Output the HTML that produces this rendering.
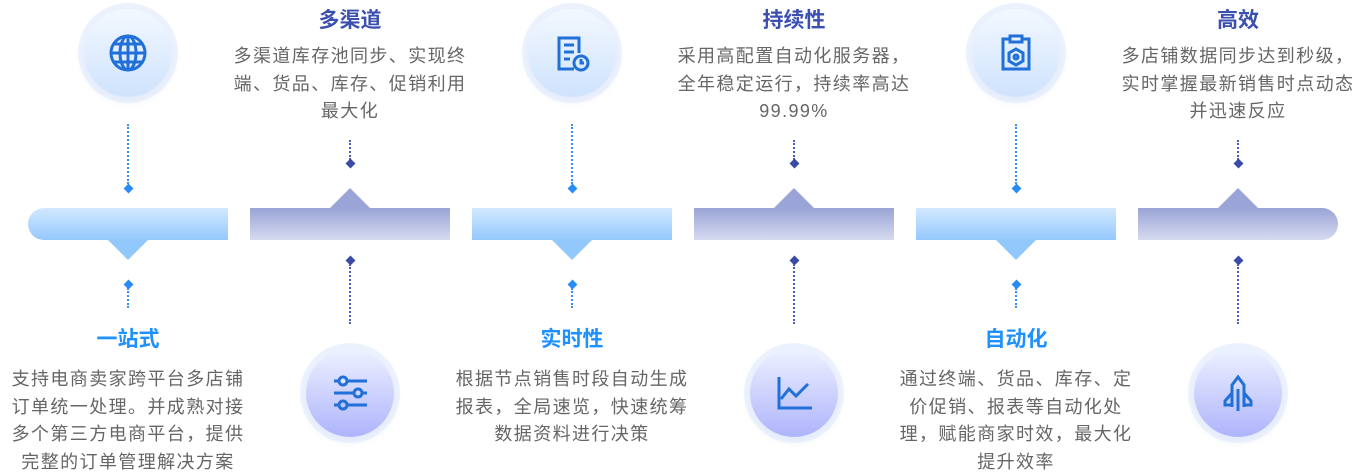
<!DOCTYPE html><html><head><meta charset="utf-8"><style>
body{margin:0;width:1366px;height:476px;background:#fff;position:relative;overflow:hidden;font-family:"Liberation Sans","Noto Sans CJK SC",sans-serif}
.bar{position:absolute;top:208px;width:200px;height:32px}
.bl{background:linear-gradient(#d3e9ff,#94c9fd)}
.pu{background:linear-gradient(#9aa4d6,#d6daf0)}
.tri{position:absolute;width:0;height:0}
.vl{position:absolute;width:0;border-left:2px dotted #3b8ff0}
.vp{border-left-color:#4d5cb8}
.dm{position:absolute;width:7px;height:7px;transform:rotate(45deg);background:#2a8df5}
.dp{background:#3a4aa8}
.t{position:absolute;width:260px;text-align:center;font-size:21px;font-weight:bold}
.tb{color:#1e90ff}.tp{color:#3b4fb0}
.d{position:absolute;width:300px;text-align:center;font-size:18px;line-height:27.5px;color:#666;white-space:nowrap;letter-spacing:1.4px}
.c{position:absolute;width:88px;height:88px;border-radius:50%;box-shadow:0 0 0 6px rgba(228,236,252,.7),0 3px 8px rgba(160,170,220,.35)}
.cb{background:linear-gradient(#f3f8ff,#cfe3fd)}
.cp{background:linear-gradient(#eef1ff,#aeb4fb)}
.c svg{position:absolute;left:24px;top:24px}
</style></head><body>
<div class="bar bl" style="left:28px;border-radius:16px 0 0 16px"></div>
<div class="bar pu" style="left:250px"></div>
<div class="bar bl" style="left:472px"></div>
<div class="bar pu" style="left:694px"></div>
<div class="bar bl" style="left:916px"></div>
<div class="bar pu" style="left:1138px;border-radius:0 16px 16px 0"></div>
<div class="tri" style="left:108px;top:240px;border-left:20px solid transparent;border-right:20px solid transparent;border-top:20px solid #93c8fd"></div>
<div class="tri" style="left:552px;top:240px;border-left:20px solid transparent;border-right:20px solid transparent;border-top:20px solid #93c8fd"></div>
<div class="tri" style="left:996px;top:240px;border-left:20px solid transparent;border-right:20px solid transparent;border-top:20px solid #93c8fd"></div>
<div class="tri" style="left:330px;top:188px;border-left:20px solid transparent;border-right:20px solid transparent;border-bottom:20px solid #9aa4d6"></div>
<div class="tri" style="left:774px;top:188px;border-left:20px solid transparent;border-right:20px solid transparent;border-bottom:20px solid #9aa4d6"></div>
<div class="tri" style="left:1218px;top:188px;border-left:20px solid transparent;border-right:20px solid transparent;border-bottom:20px solid #9aa4d6"></div>

<div class="c cb" style="left:84px;top:9px"><svg width="40" height="40" viewBox="0 0 40 40" fill="none" stroke="#2070d8" stroke-width="3"><circle cx="20" cy="20" r="17"/><ellipse cx="20" cy="20" rx="8" ry="17"/><line x1="20" y1="3" x2="20" y2="37"/><line x1="3" y1="20" x2="37" y2="20"/><line x1="6" y1="11" x2="34" y2="11"/><line x1="6" y1="29" x2="34" y2="29"/></svg></div>
<div class="vl" style="left:127px;top:124px;height:60px"></div><div class="dm" style="left:125px;top:185px"></div>
<div class="dm" style="left:125px;top:281px"></div><div class="vl" style="left:127px;top:288px;height:20px"></div>
<div class="t tb" style="left:-2px;top:323px">一站式</div>
<div class="d" style="left:-22px;top:366px">支持电商卖家跨平台多店铺<br>订单统一处理。并成熟对接<br>多个第三方电商平台，提供<br>完整的订单管理解决方案</div>

<div class="c cb" style="left:528px;top:9px"><svg width="40" height="40" viewBox="0 0 40 40" fill="none" stroke="#2070d8" stroke-width="3"><path d="M27 20V5H7v31h15"/><line x1="12" y1="12" x2="22" y2="12"/><line x1="12" y1="19" x2="22" y2="19"/><line x1="12" y1="26" x2="18" y2="26"/><circle cx="29" cy="30" r="7"/><path d="M29 26v4h3"/></svg></div>
<div class="vl" style="left:571px;top:124px;height:60px"></div><div class="dm" style="left:569px;top:185px"></div>
<div class="dm" style="left:569px;top:281px"></div><div class="vl" style="left:571px;top:288px;height:20px"></div>
<div class="t tb" style="left:442px;top:323px">实时性</div>
<div class="d" style="left:422px;top:366px">根据节点销售时段自动生成<br>报表，全局速览，快速统筹<br>数据资料进行决策</div>

<div class="c cb" style="left:972px;top:9px"><svg width="40" height="40" viewBox="0 0 40 40" fill="none" stroke="#2070d8" stroke-width="3"><path d="M14 6H7v30h26V6h-7"/><rect x="14" y="3" width="12" height="6"/><path d="M20 16l7 4v8l-7 4-7-4v-8z"/><circle cx="20" cy="24" r="2"/></svg></div>
<div class="vl" style="left:1015px;top:124px;height:60px"></div><div class="dm" style="left:1013px;top:185px"></div>
<div class="dm" style="left:1013px;top:281px"></div><div class="vl" style="left:1015px;top:288px;height:20px"></div>
<div class="t tb" style="left:886px;top:323px">自动化</div>
<div class="d" style="left:866px;top:366px">通过终端、货品、库存、定<br>价促销、报表等自动化处<br>理，赋能商家时效，最大化<br>提升效率</div>

<div class="t tp" style="left:220px;top:4px">多渠道</div>
<div class="d" style="left:200px;top:43px">多渠道库存池同步、实现终<br>端、货品、库存、促销利用<br>最大化</div>
<div class="vl vp" style="left:349px;top:140px;height:20px"></div><div class="dm dp" style="left:347px;top:160px"></div>
<div class="dm dp" style="left:347px;top:257px"></div><div class="vl vp" style="left:349px;top:264px;height:60px"></div>
<div class="c cp" style="left:306px;top:349px"><svg width="40" height="40" viewBox="0 0 40 40" fill="none" stroke="#2070d8" stroke-width="3"><line x1="4" y1="8" x2="37" y2="8"/><line x1="4" y1="20" x2="37" y2="20"/><line x1="4" y1="32" x2="37" y2="32"/><circle cx="13" cy="8" r="4" fill="#e0e6ff"/><circle cx="28" cy="20" r="4" fill="#d0d6ff"/><circle cx="13" cy="32" r="4" fill="#c0c6fd"/></svg></div>

<div class="t tp" style="left:664px;top:4px">持续性</div>
<div class="d" style="left:644px;top:43px">采用高配置自动化服务器，<br>全年稳定运行，持续率高达<br>99.99%</div>
<div class="vl vp" style="left:793px;top:140px;height:20px"></div><div class="dm dp" style="left:791px;top:160px"></div>
<div class="dm dp" style="left:791px;top:257px"></div><div class="vl vp" style="left:793px;top:264px;height:60px"></div>
<div class="c cp" style="left:750px;top:349px"><svg width="40" height="40" viewBox="0 0 40 40" fill="none" stroke="#2070d8" stroke-width="3"><path d="M5 4v31h33"/><path d="M7 26l8-10 7 7 12-12"/></svg></div>

<div class="t tp" style="left:1108px;top:4px">高效</div>
<div class="d" style="left:1088px;top:43px">多店铺数据同步达到秒级，<br>实时掌握最新销售时点动态<br>并迅速反应</div>
<div class="vl vp" style="left:1237px;top:140px;height:20px"></div><div class="dm dp" style="left:1235px;top:160px"></div>
<div class="dm dp" style="left:1235px;top:257px"></div><div class="vl vp" style="left:1237px;top:264px;height:60px"></div>
<div class="c cp" style="left:1194px;top:349px"><svg width="40" height="40" viewBox="0 0 40 40" fill="none" stroke="#2070d8" stroke-width="3"><path d="M14 34V12l6-8 6 8v22"/><path d="M14 20l-7 8v4h7"/><path d="M26 20l7 8v4h-7"/><line x1="20" y1="16" x2="20" y2="38"/></svg></div>
</body></html>
